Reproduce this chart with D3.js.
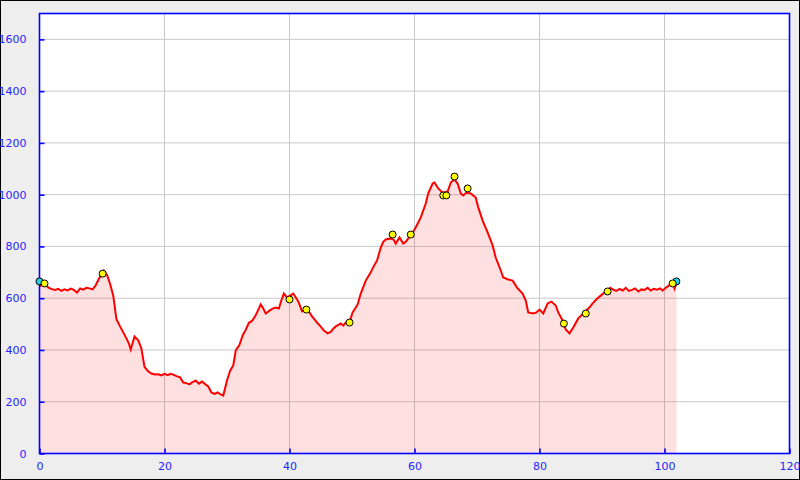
<!DOCTYPE html>
<html>
<head>
<meta charset="utf-8">
<script src="https://cdn.jsdelivr.net/npm/d3@7"></script>
<style>
  html, body { margin: 0; padding: 0; background: #eeeeee; }
  svg { display: block; }
</style>
</head>
<body>
<script>
// ---- data ----
const distKm = [0,0.5,1,1.5,2,2.5,3,3.5,4,4.5,5,5.5,6,6.5,7,7.5,8,8.5,9,9.5,10,10.3,10.8,11.3,11.8,12.3,12.8,13.4,14,14.3,14.6,15.2,15.8,16.3,16.8,17.3,17.9,18.5,19,19.5,20,20.5,21,21.5,22,22.5,23,23.5,24,24.5,25,25.5,26,26.5,27,27.5,28,28.5,29,29.4,30,30.5,31,31.4,32,32.5,33,33.5,34,34.5,35,35.4,35.8,36.2,36.8,37.3,37.8,38.3,38.7,39.1,39.6,40.1,40.6,41.1,41.5,42,42.5,43.1,43.6,44,44.4,45,45.5,46.1,46.6,47,47.4,48.2,48.6,49,49.5,50.1,50.5,50.9,51.4,52.2,53,53.5,54,54.6,55,55.4,56.2,56.7,57,57.6,58.2,58.6,59,59.6,60.2,61,61.8,62.2,62.9,63.2,63.8,64.5,65.3,65.8,66.4,66.9,67.4,67.8,68.3,69,69.8,70.2,70.9,71.7,72.5,73,73.8,74.2,74.6,75,75.7,76.4,77.3,77.8,78.2,79,79.5,80,80.6,81.3,81.9,82.6,83,83.7,84.2,84.8,85.4,86.2,87,88,88.5,89.2,89.8,90.4,90.9,91.3,91.8,92.3,92.8,93.3,93.8,94.3,94.8,95.3,95.8,96.3,96.8,97.3,97.8,98.3,98.8,99.3,99.7,100.2,100.7,101.1,101.4,101.6,101.9];
const elevM = [645,655,650,640,635,632,636,628,634,630,637,632,622,638,633,640,638,634,650,675,695,707,690,655,610,520,495,468,440,425,402,452,437,406,335,320,309,305,306,302,308,303,308,304,298,294,274,272,267,276,282,270,278,268,259,236,230,236,228,224,282,320,340,398,420,456,478,505,512,530,555,576,560,541,552,560,564,560,592,618,603,610,618,600,583,549,556,549,530,518,506,490,475,464,470,482,491,502,494,506,500,545,560,576,618,668,700,725,745,796,818,827,831,825,811,835,811,818,831,850,873,912,966,1005,1043,1047,1024,1008,1012,1047,1059,1043,1005,997,1008,1005,989,951,900,854,804,757,707,680,676,672,668,641,618,591,545,541,545,556,541,580,587,572,545,514,479,464,487,522,541,565,580,598,610,622,630,640,633,628,636,630,640,628,632,638,626,634,632,640,630,636,633,638,630,640,649,658,661,637,655];

const waypointKm   = [0.8,10.1,40.0,42.7,49.6,56.5,59.4,64.6,65.1,66.4,68.5,83.9,87.4,90.9,101.3];
const waypointElev = [657,695,595,556,506,846,846,997,997,1070,1024,502,541,626,657];
const endpointKm   = [0,101.9];
const endpointElev = [665,665];

const xTicks = [0,20,40,60,80,100,120];
const yTicks = [0,200,400,600,800,1000,1200,1400,1600];

// ---- layout ----
const W = 800, H = 480;
const svg = d3.select("body").append("svg").attr("width", W).attr("height", H);

svg.append("rect").attr("x",0.5).attr("y",0.5).attr("width",W-1).attr("height",H-1)
  .attr("fill","#eeeeee").attr("stroke","#000").attr("stroke-width",1);

const x = d3.scaleLinear().domain([0,120]).range([39.5, 789.5]);
const y = d3.scaleLinear().domain([0,1700]).range([453.5, 13.5]);

svg.append("rect").attr("x", x(0)).attr("y", y(1700))
  .attr("width", x(120)-x(0)).attr("height", y(0)-y(1700)).attr("fill","#fff");

// grid
const gridColor = "#c8c8c8";
svg.append("g").selectAll("line").data(xTicks.filter(t => t>0 && t<120)).join("line")
  .attr("x1", d=>x(d)).attr("x2", d=>x(d)).attr("y1", y(0)).attr("y2", y(1700))
  .attr("stroke", gridColor).attr("stroke-width",1);
svg.append("g").selectAll("line").data(yTicks.filter(t => t>0)).join("line")
  .attr("x1", x(0)).attr("x2", x(120)).attr("y1", d=>y(d)).attr("y2", d=>y(d))
  .attr("stroke", gridColor).attr("stroke-width",1);

const pts = distKm.map((d,i)=>[d, elevM[i]]);

// area
svg.append("path").datum(pts)
  .attr("d", d3.area().x(d=>x(d[0])).y0(y(0)).y1(d=>y(d[1])))
  .attr("fill","rgba(255,0,0,0.12)");

// line
svg.append("path").datum(pts)
  .attr("d", d3.line().x(d=>x(d[0])).y(d=>y(d[1])))
  .attr("fill","none").attr("stroke","#ff0000").attr("stroke-width",2)
  .attr("stroke-linejoin","miter");

// frame
const axisBlue = "#0000ff";
svg.append("rect").attr("x", x(0)).attr("y", y(1700))
  .attr("width", x(120)-x(0)).attr("height", y(0)-y(1700))
  .attr("fill","none").attr("stroke", axisBlue).attr("stroke-width",1.6);

// axes (ticks inward)
const labelBlue = "#2424ff";
const fmt = d3.format("d");
const yAxis = d3.axisLeft(y).tickValues(yTicks).tickFormat(fmt).tickSizeInner(-5).tickSizeOuter(0).tickPadding(13);
const gy = svg.append("g").attr("transform",`translate(${x(0)},0)`).call(yAxis);
gy.select(".domain").remove();
gy.selectAll(".tick line").attr("stroke", axisBlue).attr("stroke-width",1.6);
gy.selectAll(".tick text").attr("fill", labelBlue).style("font-family","DejaVu Sans").style("font-size","11px");

const xAxis = d3.axisBottom(x).tickValues(xTicks).tickFormat(fmt).tickSizeInner(-5).tickSizeOuter(0).tickPadding(9);
const gx = svg.append("g").attr("transform",`translate(0,${y(0)})`).call(xAxis);
gx.select(".domain").remove();
gx.selectAll(".tick line").attr("stroke", axisBlue).attr("stroke-width",1.6);
gx.selectAll(".tick text").attr("fill", labelBlue).style("font-family","DejaVu Sans").style("font-size","11px");

// markers
svg.append("g").selectAll("circle").data(endpointKm.map((d,i)=>[d,endpointElev[i]])).join("circle")
  .attr("cx", d=>x(d[0])).attr("cy", d=>y(d[1])).attr("r",3.5)
  .attr("fill","#22d3ee").attr("stroke","#000").attr("stroke-width",1);
svg.append("g").selectAll("circle").data(waypointKm.map((d,i)=>[d,waypointElev[i]])).join("circle")
  .attr("cx", d=>x(d[0])).attr("cy", d=>y(d[1])).attr("r",3.5)
  .attr("fill","#ffff00").attr("stroke","#000").attr("stroke-width",1);
</script>
</body>
</html>
